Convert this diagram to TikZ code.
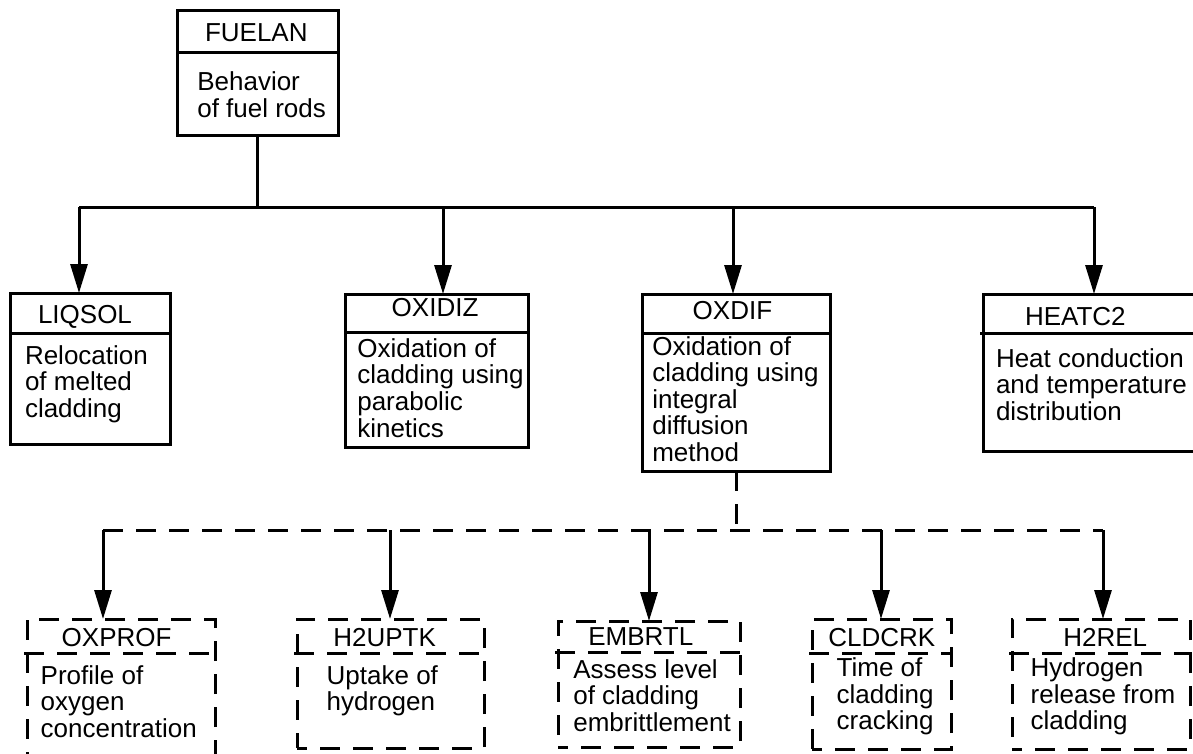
\documentclass[tikz,border=0pt]{standalone}
\usepackage{fontspec}
\setmainfont{Liberation Sans}
\usetikzlibrary{arrows.meta}
\newcommand\mltext[1]{\vtop{\baselineskip=26.6pt\lineskiplimit=-20pt\halign{##\hfil\cr #1\crcr}}}
\tikzset{
  sbox/.style={draw, rectangle, line width=3pt, inner sep=0pt, outer sep=0pt},
  dbox/.style={sbox, dash pattern=on 20pt off 13pt, dash phase=10pt},
  txt/.style={anchor=base west, inner sep=0pt, outer sep=0pt, font=\fontsize{26}{26.6}\selectfont},
  solidline/.style={line width=3pt},
  dashline/.style={line width=3pt, dash pattern=on 20pt off 13pt},
  arr/.style={line width=3pt, -{Triangle[length=29pt, width=17pt]}}
}
\begin{document}
\begin{tikzpicture}[x=1pt,y=-1pt]
\useasboundingbox (0,0) rectangle (1193,753);
% boxes
\node[sbox, minimum width=161pt, minimum height=125pt] (FUELAN) at (257.5,72.5) {};
\node[sbox, minimum width=160pt, minimum height=151pt] (LIQSOL) at (90,368.5) {};
\node[sbox, minimum width=183pt, minimum height=153pt] (OXIDIZ) at (436.5,370.5) {};
\node[sbox, minimum width=188pt, minimum height=177pt] (OXDIF) at (736,382.5) {};
\node[sbox, minimum width=217pt, minimum height=157pt] (HEATC2) at (1091.5,372.5) {};
\node[dbox, minimum width=188pt, minimum height=141pt] (OXPROF) at (121,689.5) {};
\node[dbox, minimum width=187pt, minimum height=129pt] (H2UPTK) at (390.5,683.5) {};
\node[dbox, minimum width=182pt, minimum height=126pt] (EMBRTL) at (649,684) {};
\node[dbox, minimum width=139pt, minimum height=130pt] (CLDCRK) at (881.5,684) {};
\node[dbox, minimum width=178pt, minimum height=130pt] (H2REL) at (1101,684) {};
% dividers
\draw[solidline] (FUELAN.west |- 0,52) -- (FUELAN.east |- 0,52);
\draw[solidline] (LIQSOL.west |- 0,333) -- (LIQSOL.east |- 0,333);
\draw[solidline] (OXIDIZ.west |- 0,332) -- (OXIDIZ.east |- 0,332);
\draw[solidline] (OXDIF.west |- 0,333) -- (OXDIF.east |- 0,333);
\draw[solidline] ([xshift=-3pt]HEATC2.west |- 0,333) -- (HEATC2.east |- 0,333);
\draw[dashline] ([xshift=-3pt]OXPROF.west |- 0,653) -- ([xshift=2pt]OXPROF.east |- 0,653);
\draw[dashline] ([xshift=-3pt]H2UPTK.west |- 0,653) -- ([xshift=2pt]H2UPTK.east |- 0,653);
\draw[dashline] ([xshift=-3pt]EMBRTL.west |- 0,652) -- ([xshift=2pt]EMBRTL.east |- 0,652);
\draw[dashline] ([xshift=-3pt]CLDCRK.west |- 0,653) -- ([xshift=2pt]CLDCRK.east |- 0,653);
\draw[dashline] ([xshift=-3pt]H2REL.west |- 0,653) -- ([xshift=2pt]H2REL.east |- 0,653);
% header texts
\node[txt] (tFUELAN) at (205,41.7) {FUELAN};
\node[txt] (tLIQSOL) at (38,323.3) {LIQSOL};
\node[txt] (tOXIDIZ) at (391.7,316.7) {OXIDIZ};
\node[txt] (tOXDIF) at (692.7,319.3) {OXDIF};
\node[txt] (tHEATC2) at (1025,325) {HEATC2};
\node[txt] (tOXPROF) at (61.7,646.7) {OXPROF};
\node[txt] (tH2UPTK) at (333.3,646.7) {H2UPTK};
\node[txt] (tEMBRTL) at (588.3,645.7) {EMBRTL};
\node[txt] (tCLDCRK) at (828.3,646) {CLDCRK};
\node[txt] (tH2REL) at (1063.3,646) {H2REL};
% body texts
\node[txt] (bFUELAN) at (197.3,90.7) {\mltext{Behavior\cr of fuel rods}};
\node[txt] (bLIQSOL) at (25,364) {\mltext{Relocation\cr of melted\cr cladding}};
\node[txt] (bOXIDIZ) at (357.3,357.3) {\mltext{Oxidation of\cr cladding using\cr parabolic\cr kinetics}};
\node[txt] (bOXDIF) at (652.3,355) {\mltext{Oxidation of\cr cladding using\cr integral\cr diffusion\cr method}};
\node[txt] (bHEATC2) at (996,367.3) {\mltext{Heat conduction\cr and temperature\cr distribution}};
\node[txt] (bOXPROF) at (40.7,684) {\mltext{Profile of\cr oxygen\cr concentration}};
\node[txt] (bH2UPTK) at (326.7,684) {\mltext{Uptake of\cr hydrogen}};
\node[txt] (bEMBRTL) at (573.3,678.3) {\mltext{Assess level\cr of cladding\cr embrittlement}};
\node[txt] (bCLDCRK) at (836.7,676.7) {\mltext{Time of\cr cladding\cr cracking}};
\node[txt] (bH2REL) at (1030.7,676.7) {\mltext{Hydrogen\cr release from\cr cladding}};
% upper connectors
\coordinate (j1) at (79,207);
\coordinate (j2) at (443,207);
\coordinate (j3) at (733,207);
\coordinate (j4) at (1094,207);
\draw[solidline] (FUELAN.south) -- (FUELAN.south |- j1);
\draw[solidline] (j1) -- (j4);
\draw[arr] (j1) -- (j1 |- LIQSOL.north);
\draw[arr] (j2) -- (j2 |- OXIDIZ.north);
\draw[arr] (j3) -- (j3 |- OXDIF.north);
\draw[arr] (j4) -- (j4 |- HEATC2.north);
% lower connectors
\coordinate (k1) at (103,530);
\coordinate (k2) at (390,530);
\coordinate (k3) at (649,530);
\coordinate (k4) at (881,530);
\coordinate (k5) at (1103,530);
\draw[dashline] (OXDIF.south) -- (OXDIF.south |- k1);
\draw[dashline] (k1) -- (k5);
\draw[arr] (k1) -- (k1 |- OXPROF.north);
\draw[arr] (k2) -- (k2 |- H2UPTK.north);
\draw[arr] (k3) -- (k3 |- EMBRTL.north);
\draw[arr] (k4) -- (k4 |- CLDCRK.north);
\draw[arr] (k5) -- (k5 |- H2REL.north);
\end{tikzpicture}
\end{document}
